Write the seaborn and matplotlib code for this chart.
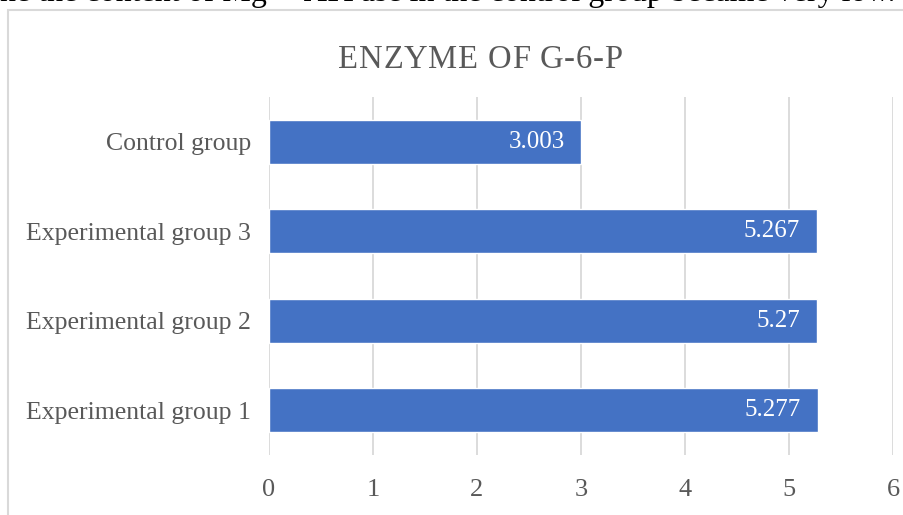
import matplotlib
matplotlib.use("Agg")
import matplotlib.pyplot as plt
import seaborn as sns
import pandas as pd
from matplotlib.patches import Rectangle

# Data
groups = ["Control group", "Experimental group 3", "Experimental group 2", "Experimental group 1"]
values = [3.003, 5.267, 5.27, 5.277]
value_labels = ["3.003", "5.267", "5.27", "5.277"]
x_ticks = [0, 1, 2, 3, 4, 5, 6]

title = "ENZYME OF G-6-P"
body_line = "ne the content of Mg\u00b2\u207a-ATPase in the control group became very low."

sns.set_theme(style="white")
plt.rcParams["font.family"] = ["Liberation Serif", "DejaVu Serif"]

W, H = 904, 515
fig = plt.figure(figsize=(W / 100, H / 100), dpi=100)
renderer = fig.canvas.get_renderer()


def text_width(s, **kw):
    t = fig.text(0, 0, s, **kw)
    w = t.get_window_extent(renderer).width
    t.remove()
    return w


def spaced_title(s, x_center_px, baseline_px, total_px, **kw):
    """Draw a string with even extra tracking so it spans total_px."""
    ref = text_width("x", **kw)
    natural = text_width(s, **kw)
    extra = (total_px - natural) / (len(s) - 1)
    left = x_center_px - total_px / 2
    for i, ch in enumerate(s):
        if ch == " ":
            continue
        off = text_width(s[:i] + "x", **kw) - ref if i else 0.0
        fig.text((left + off + i * extra) / W, 1 - baseline_px / H, ch,
                 ha="left", va="baseline", **kw)


# Surrounding document line, mostly above the page edge
fig.text(0.0, 1 - 1 / H, body_line, ha="left", va="baseline",
         fontsize=23, color="black")

# Chart frame
frame = Rectangle((8 / W, -0.1), 1.2, 1 - 10 / H + 0.1, transform=fig.transFigure,
                  fill=False, edgecolor="#D9D9D9", linewidth=1.5)
fig.patches.append(frame)

ax = fig.add_axes([269 / W, 1 - 455 / H, (893 - 269) / W, (455 - 97) / H])

df = pd.DataFrame({"group": groups, "value": values})
sns.barplot(data=df, x="value", y="group", orient="h", color="#4472C4",
            width=0.49, saturation=1, ax=ax)

ax.set_xlim(0, 6)
ax.set_ylim(3.5, -0.5)
ax.set_xticks(x_ticks)
ax.set_xticklabels([str(t) for t in x_ticks])
ax.set_xlabel("")
ax.set_ylabel("")
ax.grid(axis="x", color="#D9D9D9", linewidth=1.3)
ax.set_axisbelow(True)
for s in ax.spines.values():
    s.set_visible(False)
ax.tick_params(axis="x", length=0, pad=17, labelsize=19, labelcolor="#595959")
ax.tick_params(axis="y", length=0, pad=13, labelsize=18.5, labelcolor="#595959")

for i, (v, lab) in enumerate(zip(values, value_labels)):
    ax.text(v - 0.16, i, lab, ha="right", va="center", color="white", fontsize=18)

spaced_title(title, 480, 68, 284, fontsize=23.5, color="#595959")

fig.savefig("out.png", dpi=100)
